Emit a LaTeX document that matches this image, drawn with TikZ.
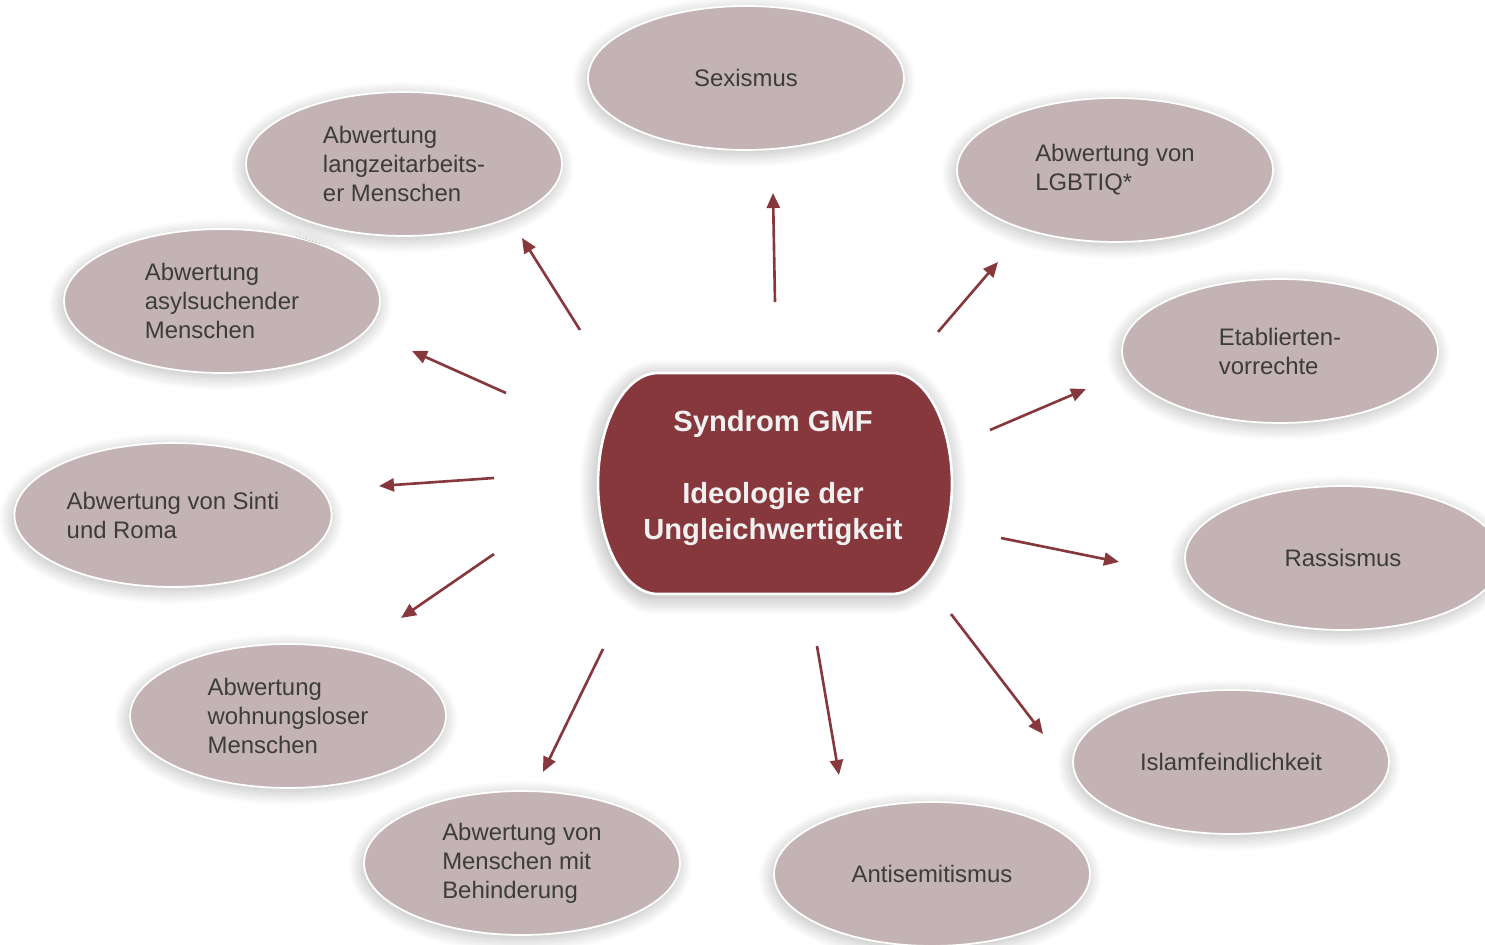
\documentclass[tikz,border=0pt]{standalone}
\usepackage{fontspec}
\setmainfont{Liberation Sans}
\usepackage{tikz}
\usetikzlibrary{arrows.meta, shapes.geometric, shadows.blur}

\definecolor{gmfred}{HTML}{86383D}
\definecolor{gmfrose}{HTML}{C4B3B4}
\definecolor{gmfgray}{HTML}{3C3C3C}

\begin{document}
\begin{tikzpicture}[
        x=0.02cm, y=-0.02cm,
        % Outer element style (pale ellipse with a soft shadow)
        facet/.style={
            ellipse, draw=white, line width=1pt,
            fill=gmfrose,
            minimum width=6.32cm, minimum height=2.88cm,
            blur shadow={shadow xshift=-1pt, shadow yshift=-2pt, shadow blur radius=8pt,
                shadow blur steps=25, shadow opacity=28},
            align=left, text=gmfgray,
            font=\fontsize{13.6}{16.5}\selectfont
        },
        % Core shape behind the central text
        core/.style={
            fill=gmfred, draw=white, line width=1.5pt,
            blur shadow={shadow xshift=-1pt, shadow yshift=-2pt, shadow blur radius=10pt,
                shadow blur steps=25, shadow opacity=35}
        },
        coretext/.style={
            align=center, text=white!94!black,
            font=\fontsize{16.6}{20.5}\selectfont\bfseries
        },
        % Arrow style
        link/.style={
            draw=gmfred, line width=1.5pt,
            -{Triangle[length=0.3cm, width=0.26cm]}
        }
    ]

        \useasboundingbox (0,0) rectangle (1485,945);
        \clip (0,0) rectangle (1485,945);

        % Centre
        \path[core] (660,373) -- (892,373)
            arc[start angle=90, end angle=-90, x radius=1.2cm, y radius=2.21cm]
            -- (658,594)
            arc[start angle=270, end angle=90, x radius=1.2cm, y radius=2.21cm]
            -- cycle;
        \node[coretext] (gmf) at (773,478) {Syndrom GMF\\[0.72cm]Ideologie der\\Ungleichwertigkeit};

        % Nodes
        \node[facet] (sexism) at (746,78) {Sexismus};
        \node[facet] (lgbtiq) at (1115,170) {Abwertung von\\LGBTIQ*};
        \node[facet] (estab) at (1280,351) {Etablierten-\\vorrechte};
        \node[facet] (racism) at (1343,558) {Rassismus};
        \node[facet] (islam) at (1231,762) {Islamfeindlichkeit};
        \node[facet] (antisem) at (932,874) {Antisemitismus};
        \node[facet] (disabled) at (522,863) {Abwertung von\\Menschen mit\\Behinderung};
        \node[facet] (homeless) at (288,716) {Abwertung\\wohnungsloser\\Menschen};
        \node[facet] (sinti) at (173,515) {Abwertung von Sinti\\und Roma};
        \node[facet] (asylum) at (222,301) {Abwertung\\asylsuchender\\Menschen};
        \node[facet] (jobless) at (404,164) {Abwertung\\langzeitarbeits-\\er Menschen};

        % Connections
        \foreach \i/\sx/\sy/\ex/\ey in {
            1/775/302/773/193, 2/938/332/998/262, 3/990/430/1086/389,
            4/1001/538/1119/562, 5/951/614/1043/734, 6/817/646/839/775,
            7/603/649/543/772, 8/494/554/401/618, 9/494/478/379/486,
            10/506/393/412/351, 11/580/330/522/238} {
            \coordinate (from\i) at (\sx,\sy);
            \coordinate (to\i) at (\ex,\ey);
            \draw[link] (from\i) -- (to\i);
        }

    \end{tikzpicture}
\end{document}
